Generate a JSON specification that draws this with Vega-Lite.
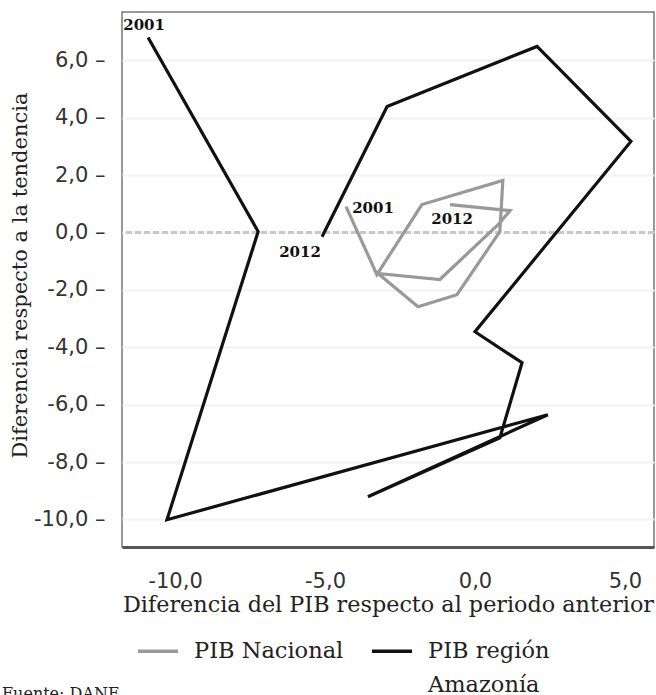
{
  "$schema": "https://vega.github.io/schema/vega-lite/v6.json",
  "width": 532,
  "height": 535,
  "autosize": {"type": "none"},
  "padding": {"left": 122, "top": 12, "right": 2, "bottom": 148},
  "background": "white",
  "config": {
    "view": {"stroke": "#777", "strokeWidth": 1.5},
    "font": "DejaVu Serif",
    "style": {"guide-label": {"lineHeight": 34}}
  },
  "title": {
    "text": "Fuente: DANE",
    "orient": "bottom",
    "anchor": "start",
    "frame": "group",
    "font": "DejaVu Serif",
    "fontSize": 16,
    "fontWeight": "normal",
    "color": "#222",
    "dx": -120,
    "offset": -11
  },
  "datasets": {
    "pib": [
      {"serie": "PIB región Amazonía", "anio": 2001, "x": -10.9, "y": 6.79},
      {"serie": "PIB región Amazonía", "anio": 2002, "x": -7.23, "y": 0.03},
      {"serie": "PIB región Amazonía", "anio": 2003, "x": -10.27, "y": -10.01},
      {"serie": "PIB región Amazonía", "anio": 2004, "x": 2.43, "y": -6.35},
      {"serie": "PIB región Amazonía", "anio": 2005, "x": -3.57, "y": -9.21},
      {"serie": "PIB región Amazonía", "anio": 2006, "x": 0.83, "y": -7.16},
      {"serie": "PIB región Amazonía", "anio": 2007, "x": 1.57, "y": -4.54},
      {"serie": "PIB región Amazonía", "anio": 2008, "x": 0.0, "y": -3.46},
      {"serie": "PIB región Amazonía", "anio": 2009, "x": 5.2, "y": 3.17},
      {"serie": "PIB región Amazonía", "anio": 2010, "x": 2.07, "y": 6.48},
      {"serie": "PIB región Amazonía", "anio": 2011, "x": -2.93, "y": 4.39},
      {"serie": "PIB región Amazonía", "anio": 2012, "x": -5.1, "y": -0.15},
      {"serie": "PIB Nacional", "anio": 2001, "x": -4.3, "y": 0.9},
      {"serie": "PIB Nacional", "anio": 2002, "x": -3.27, "y": -1.47},
      {"serie": "PIB Nacional", "anio": 2003, "x": -1.77, "y": 0.97},
      {"serie": "PIB Nacional", "anio": 2004, "x": 0.93, "y": 1.81},
      {"serie": "PIB Nacional", "anio": 2005, "x": 0.83, "y": 0.03},
      {"serie": "PIB Nacional", "anio": 2006, "x": -0.6, "y": -2.17},
      {"serie": "PIB Nacional", "anio": 2007, "x": -1.9, "y": -2.59},
      {"serie": "PIB Nacional", "anio": 2008, "x": -3.23, "y": -1.43},
      {"serie": "PIB Nacional", "anio": 2009, "x": -1.17, "y": -1.64},
      {"serie": "PIB Nacional", "anio": 2010, "x": 0.77, "y": 0.27},
      {"serie": "PIB Nacional", "anio": 2011, "x": 1.17, "y": 0.76},
      {"serie": "PIB Nacional", "anio": 2012, "x": -0.83, "y": 0.97}
    ]
  },
  "data": {"name": "pib"},
  "encoding": {
    "x": {
      "field": "x",
      "type": "quantitative",
      "scale": {"domain": [-11.77, 5.97], "nice": false, "zero": false},
      "axis": {
        "title": "Diferencia del PIB respecto al periodo anterior",
        "titleFont": "DejaVu Serif",
        "titleFontSize": 22.3,
        "titleFontWeight": "normal",
        "titleColor": "#222",
        "titleY": 46,
        "titleBaseline": "top",
        "values": [-10, -5, 0, 5],
        "labelExpr": "(datum.value < 0 ? '-' : '') + replace(format(abs(datum.value), '.1f'), '.', ',')",
        "labelFont": "DejaVu Sans",
        "labelFontSize": 21,
        "labelColor": "#333",
        "labelPadding": 23,
        "ticks": false,
        "grid": false,
        "domain": true,
        "domainColor": "#555",
        "domainWidth": 3
      }
    },
    "y": {
      "field": "y",
      "type": "quantitative",
      "scale": {"domain": [-10.96, 7.68], "nice": false, "zero": false},
      "axis": {
        "title": "Diferencia respecto a la tendencia",
        "titleFont": "DejaVu Serif",
        "titleFontSize": 21,
        "titleFontWeight": "normal",
        "titleColor": "#222",
        "titleX": -102,
        "titleY": 263,
        "titleAngle": -90,
        "titleAlign": "center",
        "titleBaseline": "middle",
        "values": [-10, -8, -6, -4, -2, 0, 2, 4, 6],
        "labelExpr": "(datum.value < 0 ? '-' : '') + replace(format(abs(datum.value), '.1f'), '.', ',') + ' –'",
        "labelFont": "DejaVu Sans",
        "labelFontSize": 21,
        "labelColor": "#333",
        "labelPadding": 17,
        "ticks": false,
        "domain": false,
        "grid": true,
        "gridColor": "#f2f2f2",
        "gridWidth": 2
      }
    }
  },
  "layer": [
    {
      "mark": {"type": "rule", "color": "#c8c8c8", "strokeWidth": 1.5, "strokeDash": [6, 3]},
      "encoding": {
        "x": null,
        "y": {"datum": 0, "type": "quantitative"}
      }
    },
    {
      "mark": {"type": "line", "strokeWidth": 3.2, "strokeJoin": "miter"},
      "encoding": {
        "order": {"field": "anio", "type": "quantitative"},
        "color": {
          "field": "serie",
          "type": "nominal",
          "scale": {"domain": ["PIB Nacional", "PIB región Amazonía"], "range": ["#999999", "#111111"]},
          "legend": {
            "orient": "none",
            "legendX": 14,
            "legendY": 617,
            "direction": "horizontal",
            "title": null,
            "padding": 0,
            "symbolType": "stroke",
            "symbolSize": 1600,
            "symbolStrokeWidth": 3.5,
            "labelFont": "DejaVu Serif",
            "labelFontSize": 22.5,
            "labelColor": "#222",
            "labelOffset": 14,
            "labelLimit": 0,
            "columnPadding": 21,
            "labelBaseline": "middle",
            "labelExpr": "datum.label == 'PIB región Amazonía' ? ['PIB región', 'Amazonía'] : [datum.label, '']"
          }
        }
      }
    },
    {
      "transform": [{"filter": "datum.serie == 'PIB región Amazonía' && datum.anio == 2001"}],
      "mark": {"type": "text", "font": "DejaVu Serif", "fontWeight": "bold", "fontSize": 15, "color": "#111", "dx": -4, "dy": -13},
      "encoding": {"text": {"field": "anio", "type": "nominal"}}
    },
    {
      "transform": [{"filter": "datum.serie == 'PIB región Amazonía' && datum.anio == 2012"}],
      "mark": {"type": "text", "font": "DejaVu Serif", "fontWeight": "bold", "fontSize": 15, "color": "#111", "dx": -22, "dy": 15},
      "encoding": {"text": {"field": "anio", "type": "nominal"}}
    },
    {
      "transform": [{"filter": "datum.serie == 'PIB Nacional' && datum.anio == 2001"}],
      "mark": {"type": "text", "font": "DejaVu Serif", "fontWeight": "bold", "fontSize": 15, "color": "#111", "dx": 27, "dy": 1},
      "encoding": {"text": {"field": "anio", "type": "nominal"}}
    },
    {
      "transform": [{"filter": "datum.serie == 'PIB Nacional' && datum.anio == 2012"}],
      "mark": {"type": "text", "font": "DejaVu Serif", "fontWeight": "bold", "fontSize": 15, "color": "#111", "dx": 2, "dy": 14},
      "encoding": {"text": {"field": "anio", "type": "nominal"}}
    }
  ]
}
